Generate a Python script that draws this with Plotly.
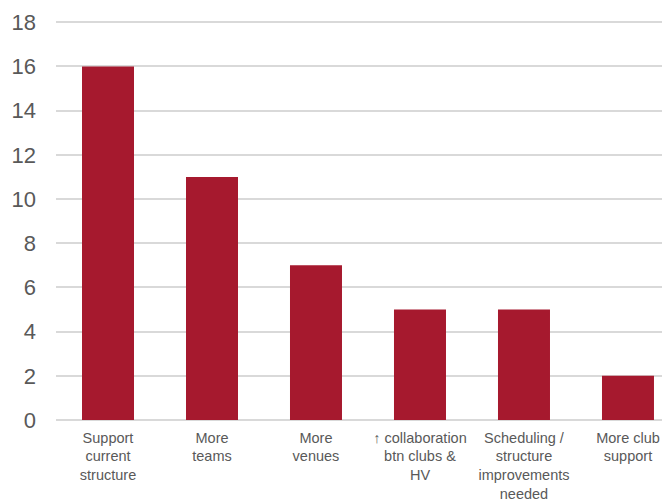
import plotly.graph_objects as go

categories = [
    "Support<br>current<br>structure",
    "More<br>teams",
    "More<br>venues",
    "↑ collaboration<br>btn clubs &<br>HV",
    "Scheduling /<br>structure<br>improvements<br>needed",
    "More club<br>support",
]
values = [16, 11, 7, 5, 5, 2]
y_ticks = [0, 2, 4, 6, 8, 10, 12, 14, 16, 18]

fig = go.Figure(
    go.Bar(x=categories, y=values, marker=dict(color="#A6192E", line=dict(width=0)))
)

fig.update_layout(
    width=662,
    height=491,
    margin=dict(l=48, r=0, t=12, b=79),
    paper_bgcolor="white",
    plot_bgcolor="white",
    bargap=0.5,
    showlegend=False,
    font=dict(family="Liberation Sans, Arial, sans-serif", color="#595959"),
)
fig.update_xaxes(
    type="category",
    range=[-0.5, 5.404],
    showgrid=False,
    showline=False,
    zeroline=False,
    tickfont=dict(size=14.5, color="#595959"),
    ticklabelstandoff=7,
    automargin=False,
    ticks="",
)
fig.update_yaxes(
    range=[0, 18.1],
    tickvals=y_ticks,
    showgrid=True,
    gridcolor="#d9d9d9",
    gridwidth=1.5,
    zeroline=True,
    zerolinecolor="#d9d9d9",
    zerolinewidth=1.5,
    showline=False,
    tickfont=dict(size=22, color="#595959"),
    ticklabelstandoff=19,
    automargin=False,
)

fig.write_html("out.html")
